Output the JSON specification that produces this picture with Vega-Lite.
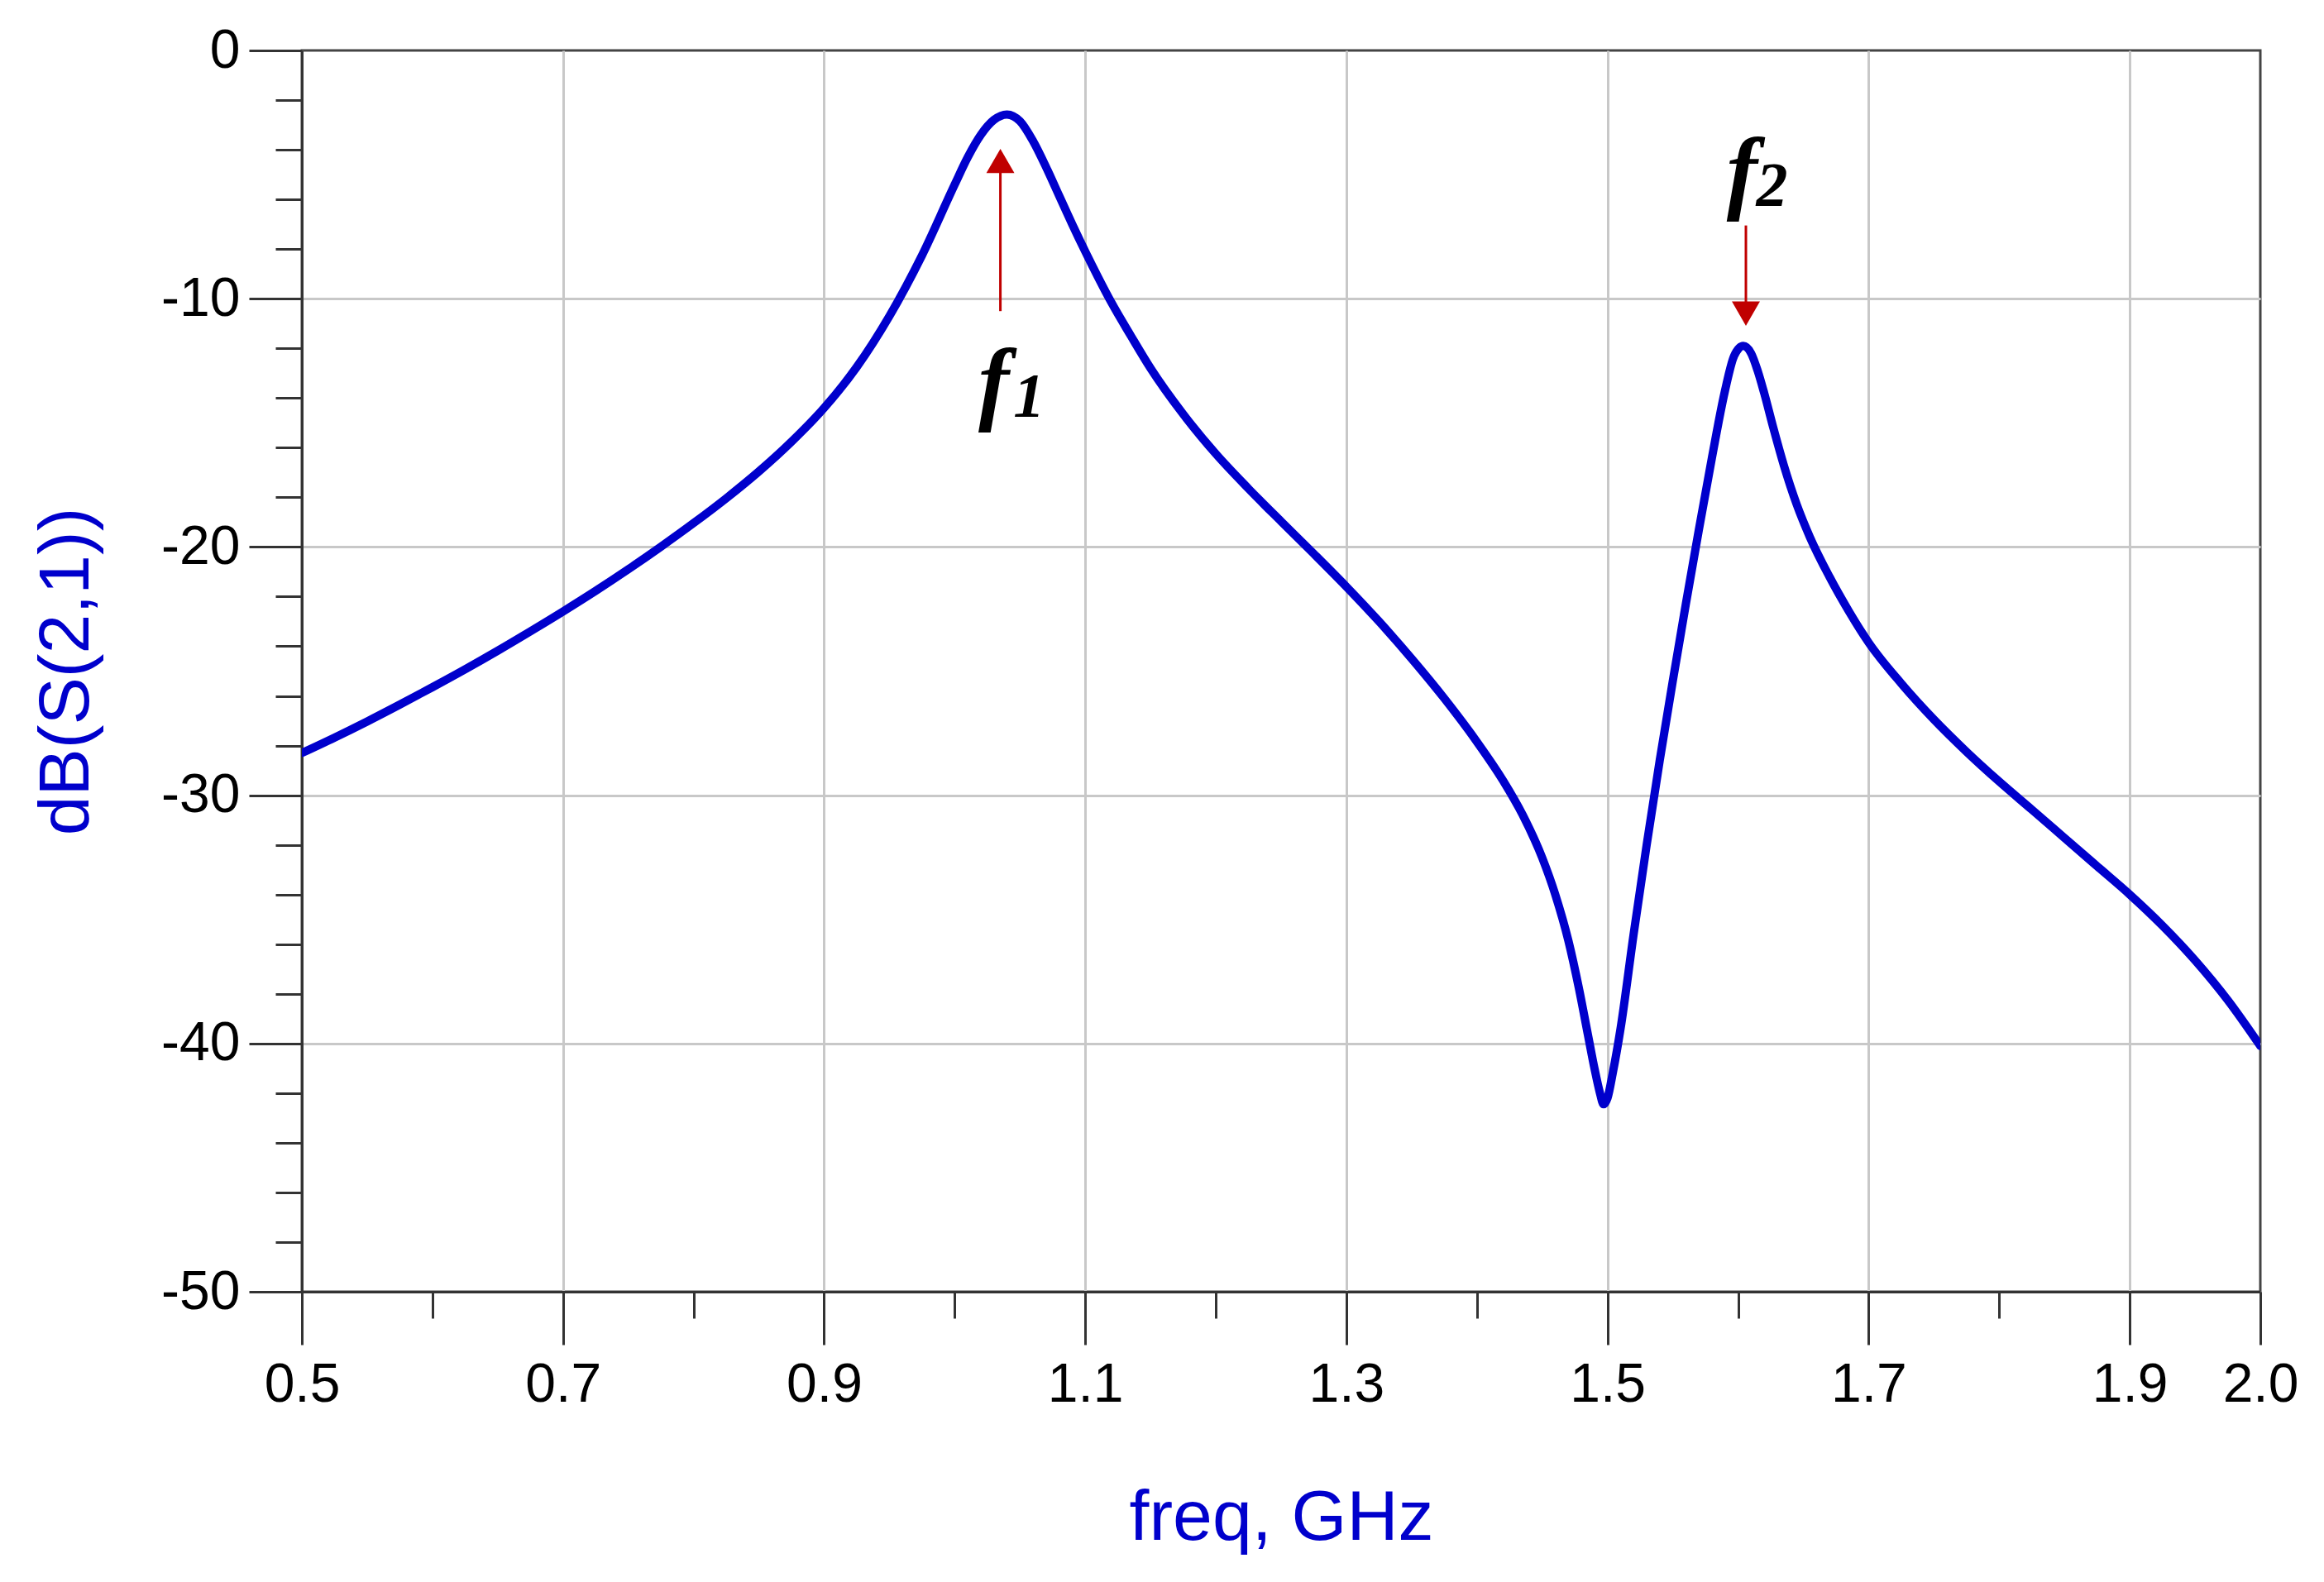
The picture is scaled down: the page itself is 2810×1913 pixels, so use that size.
{
  "$schema": "https://vega.github.io/schema/vega-lite/v6.json",
  "width": 2368,
  "height": 1501,
  "autosize": "none",
  "padding": {"left": 365, "top": 61, "right": 77, "bottom": 351},
  "background": "white",
  "config": {
    "view": {"stroke": "#444444", "strokeWidth": 3}
  },
  "datasets": {
    "curve": [
      {"freq": 0.500, "db": -28.3}, {"freq": 0.525, "db": -27.68}, {"freq": 0.550, "db": -27.03},
      {"freq": 0.575, "db": -26.35}, {"freq": 0.600, "db": -25.65}, {"freq": 0.625, "db": -24.93},
      {"freq": 0.650, "db": -24.18}, {"freq": 0.675, "db": -23.4}, {"freq": 0.700, "db": -22.6},
      {"freq": 0.725, "db": -21.77}, {"freq": 0.750, "db": -20.9}, {"freq": 0.775, "db": -19.99},
      {"freq": 0.800, "db": -19.04}, {"freq": 0.825, "db": -18.04}, {"freq": 0.850, "db": -16.96},
      {"freq": 0.875, "db": -15.76}, {"freq": 0.900, "db": -14.4}, {"freq": 0.925, "db": -12.75},
      {"freq": 0.950, "db": -10.7}, {"freq": 0.975, "db": -8.25}, {"freq": 1.000, "db": -5.4},
      {"freq": 1.010, "db": -4.3}, {"freq": 1.020, "db": -3.4}, {"freq": 1.030, "db": -2.8},
      {"freq": 1.040, "db": -2.58}, {"freq": 1.050, "db": -2.85}, {"freq": 1.060, "db": -3.65},
      {"freq": 1.070, "db": -4.7}, {"freq": 1.080, "db": -5.85}, {"freq": 1.090, "db": -7.0},
      {"freq": 1.100, "db": -8.1}, {"freq": 1.110, "db": -9.15}, {"freq": 1.120, "db": -10.15},
      {"freq": 1.135, "db": -11.5}, {"freq": 1.150, "db": -12.8}, {"freq": 1.175, "db": -14.65},
      {"freq": 1.200, "db": -16.25}, {"freq": 1.225, "db": -17.65}, {"freq": 1.250, "db": -18.97},
      {"freq": 1.275, "db": -20.27}, {"freq": 1.300, "db": -21.6}, {"freq": 1.325, "db": -23.0},
      {"freq": 1.350, "db": -24.5}, {"freq": 1.375, "db": -26.1}, {"freq": 1.400, "db": -27.85},
      {"freq": 1.420, "db": -29.41}, {"freq": 1.435, "db": -30.79}, {"freq": 1.450, "db": -32.52},
      {"freq": 1.460, "db": -34.0}, {"freq": 1.470, "db": -35.85}, {"freq": 1.478, "db": -37.75},
      {"freq": 1.485, "db": -39.65}, {"freq": 1.490, "db": -41.0}, {"freq": 1.494, "db": -41.95},
      {"freq": 1.497, "db": -42.45}, {"freq": 1.500, "db": -42.2}, {"freq": 1.504, "db": -41.2},
      {"freq": 1.510, "db": -39.4}, {"freq": 1.520, "db": -35.6}, {"freq": 1.530, "db": -32.0},
      {"freq": 1.540, "db": -28.6}, {"freq": 1.550, "db": -25.4}, {"freq": 1.560, "db": -22.3},
      {"freq": 1.570, "db": -19.3}, {"freq": 1.580, "db": -16.4}, {"freq": 1.590, "db": -13.7},
      {"freq": 1.597, "db": -12.3}, {"freq": 1.604, "db": -11.9}, {"freq": 1.610, "db": -12.2},
      {"freq": 1.615, "db": -12.9}, {"freq": 1.620, "db": -13.8}, {"freq": 1.627, "db": -15.2},
      {"freq": 1.635, "db": -16.7}, {"freq": 1.645, "db": -18.3}, {"freq": 1.655, "db": -19.6},
      {"freq": 1.670, "db": -21.2}, {"freq": 1.685, "db": -22.6}, {"freq": 1.700, "db": -23.85},
      {"freq": 1.725, "db": -25.5}, {"freq": 1.750, "db": -26.95}, {"freq": 1.775, "db": -28.25},
      {"freq": 1.800, "db": -29.45}, {"freq": 1.825, "db": -30.58}, {"freq": 1.850, "db": -31.72},
      {"freq": 1.875, "db": -32.86}, {"freq": 1.900, "db": -34.0}, {"freq": 1.925, "db": -35.25},
      {"freq": 1.950, "db": -36.65}, {"freq": 1.975, "db": -38.25}, {"freq": 2.000, "db": -40.1}
    ],
    "arrows": [
      {"freq": 1.035, "from": -10.5, "to": -4.6},
      {"freq": 1.606, "from": -7.05, "to": -10.5}
    ],
    "heads": [
      {"freq": 1.035, "db": -4.45, "dir": "up"},
      {"freq": 1.606, "db": -10.6, "dir": "down"}
    ],
    "mainText": [
      {"freq": 1.030, "db": -14.6, "text": "f"},
      {"freq": 1.603, "db": -6.1, "text": "f"}
    ],
    "subText": [
      {"freq": 1.057, "db": -14.75, "text": "1"},
      {"freq": 1.626, "db": -6.25, "text": "2"}
    ]
  },
  "layer": [
    {
      "data": {"name": "curve"},
      "mark": {"type": "line", "color": "#0000CC", "strokeWidth": 10, "interpolate": "monotone", "clip": true, "strokeJoin": "round", "strokeCap": "round"},
      "encoding": {
        "x": {
          "field": "freq", "type": "quantitative",
          "scale": {"domain": [0.5, 2.0], "nice": false, "zero": false},
          "axis": {
            "values": [0.5, 0.6, 0.7, 0.8, 0.9, 1.0, 1.1, 1.2, 1.3, 1.4, 1.5, 1.6, 1.7, 1.8, 1.9, 2.0],
            "format": ".1f",
            "labelExpr": "(round(datum.value*10) % 2 === 1 || round(datum.value*10) === 20) ? datum.label : ''",
            "tickSize": {"condition": {"test": "round(datum.value*10) % 2 === 1 || round(datum.value*10) === 20", "value": 64}, "value": 32},
            "gridOpacity": {"condition": {"test": "round(datum.value*10) % 2 === 1", "value": 1}, "value": 0},
            "gridColor": "#c8c8c8", "gridWidth": 3,
            "tickColor": "#333333", "tickWidth": 3,
            "domainColor": "#333333", "domainWidth": 3,
            "labelFont": "Liberation Sans", "labelFontSize": 66, "labelColor": "#000000",
            "labelPadding": 16, "labelFlush": false, "labelOverlap": false,
            "title": "freq, GHz",
            "titleFont": "Liberation Sans", "titleFontSize": 86, "titleFontWeight": "normal",
            "titleColor": "#0000CC", "titlePadding": 86
          }
        },
        "y": {
          "field": "db", "type": "quantitative",
          "scale": {"domain": [-50, 0], "nice": false, "zero": false},
          "axis": {
            "values": [0, -2, -4, -6, -8, -10, -12, -14, -16, -18, -20, -22, -24, -26, -28, -30, -32, -34, -36, -38, -40, -42, -44, -46, -48, -50],
            "labelExpr": "datum.value % 10 === 0 ? ('' + datum.value) : ''",
            "tickSize": {"condition": {"test": "datum.value % 10 === 0", "value": 64}, "value": 32},
            "gridOpacity": {"condition": {"test": "datum.value % 10 === 0 && datum.value !== 0", "value": 1}, "value": 0},
            "gridColor": "#c8c8c8", "gridWidth": 3,
            "tickColor": "#333333", "tickWidth": 3,
            "domainColor": "#333333", "domainWidth": 3,
            "labelFont": "Liberation Sans", "labelFontSize": 66, "labelColor": "#000000",
            "labelPadding": 11, "labelFlush": false, "labelOverlap": false,
            "title": "dB(S(2,1))",
            "titleFont": "Liberation Sans", "titleFontSize": 86, "titleFontWeight": "normal",
            "titleColor": "#0000CC", "titlePadding": 70
          }
        }
      }
    },
    {
      "data": {"name": "arrows"},
      "mark": {"type": "rule", "color": "#C00000", "strokeWidth": 3},
      "encoding": {
        "x": {"field": "freq", "type": "quantitative"},
        "y": {"field": "from", "type": "quantitative"},
        "y2": {"field": "to"}
      }
    },
    {
      "data": {"name": "heads"},
      "mark": {"type": "point", "filled": true, "color": "#C00000", "opacity": 1, "size": 1150},
      "encoding": {
        "x": {"field": "freq", "type": "quantitative"},
        "y": {"field": "db", "type": "quantitative"},
        "shape": {"field": "dir", "type": "nominal", "scale": {"domain": ["up", "down"], "range": ["triangle-up", "triangle-down"]}, "legend": null}
      }
    },
    {
      "data": {"name": "mainText"},
      "mark": {"type": "text", "font": "Liberation Serif", "fontStyle": "italic", "fontWeight": "bold", "fontSize": 112, "align": "center", "baseline": "alphabetic", "color": "#000000"},
      "encoding": {
        "x": {"field": "freq", "type": "quantitative"},
        "y": {"field": "db", "type": "quantitative"},
        "text": {"field": "text"}
      }
    },
    {
      "data": {"name": "subText"},
      "mark": {"type": "text", "font": "Liberation Serif", "fontStyle": "italic", "fontWeight": "bold", "fontSize": 76, "align": "center", "baseline": "alphabetic", "color": "#000000"},
      "encoding": {
        "x": {"field": "freq", "type": "quantitative"},
        "y": {"field": "db", "type": "quantitative"},
        "text": {"field": "text"}
      }
    }
  ]
}
